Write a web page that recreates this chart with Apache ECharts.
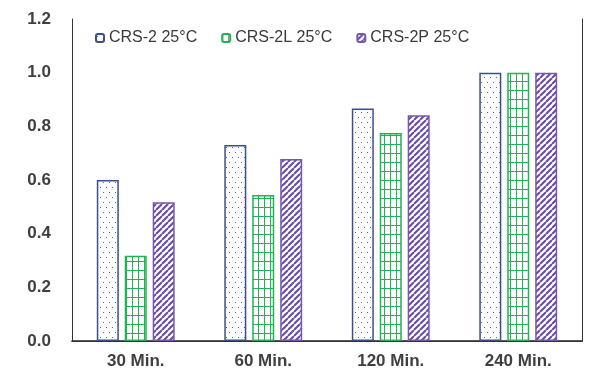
<!DOCTYPE html>
<html><head><meta charset="utf-8">
<script src="https://cdn.jsdelivr.net/npm/echarts@6/dist/echarts.min.js"></script>
<style>html,body{margin:0;padding:0;background:#fff}#c{width:594px;height:381px}</style>
</head><body><div id="c"></div>
<script>
const categories = ['30 Min.', '60 Min.', '120 Min.', '240 Min.'];
const seriesNames = ['CRS-2 25°C', 'CRS-2L 25°C', 'CRS-2P 25°C'];
const crs2 = [0.60, 0.73, 0.866, 1.0];
const crs2L = [0.318, 0.544, 0.775, 1.0];
const crs2P = [0.517, 0.678, 0.841, 1.0];
const yTicks = [0, 0.2, 0.4, 0.6, 0.8, 1.0, 1.2];

function mk(w, h, draw) {
  const c = document.createElement('canvas');
  c.width = w; c.height = h;
  const g = c.getContext('2d');
  g.fillStyle = '#fff'; g.fillRect(0, 0, w, h);
  draw(g);
  return c;
}
const dots = mk(6, 10, g => {
  g.fillStyle = '#5868a8';
  g.fillRect(1, 2, 1, 1);
  g.fillRect(4, 7, 1, 1);
});
const grid = mk(6, 9, g => {
  g.fillStyle = '#1cb454';
  g.fillRect(0, 0, 6, 1);
  g.fillRect(0, 0, 1, 9);
});
const stripes = mk(6, 6, g => {
  g.strokeStyle = '#6a48a8';
  g.lineWidth = 2;
  g.beginPath();
  for (let k = -6; k <= 12; k += 6) { g.moveTo(k, 6); g.lineTo(k + 6, 0); }
  g.stroke();
});

const chart = echarts.init(document.getElementById('c'), null, {renderer: 'canvas'});
const font = 'Liberation Sans, Arial, sans-serif';
function bar(name, data, pat, border) {
  return {
    name, type: 'bar', data, barWidth: 22, barGap: '27%',
    itemStyle: {color: {image: pat, repeat: 'repeat'}, borderColor: border, borderWidth: 1.5}
  };
}
chart.setOption({
  animation: false,
  backgroundColor: '#fff',
  legend: {
    top: 25, left: 90, itemWidth: 8, itemHeight: 8, itemGap: 24,
    textStyle: {fontFamily: font, fontSize: 16, color: '#3a3a3a', padding: [0,0,0,0]},
    data: seriesNames
  },
  grid: {left: 72, right: 12, top: 19, bottom: 40},
  xAxis: [{
    type: 'category', data: categories,
    axisLine: {lineStyle: {color: '#222', width: 1.5}},
    axisTick: {show: false},
    axisLabel: {fontFamily: font, fontSize: 17, fontWeight: 'bold', color: '#404040', margin: 12}
  }, {
    type: 'category', data: categories, position: 'top',
    axisLine: {show: true, lineStyle: {color: '#333', width: 1}},
    axisTick: {show: false}, axisLabel: {show: false}
  }],
  yAxis: [{
    type: 'value', min: 0, max: 1.2, interval: 0.2,
    axisLine: {show: true, lineStyle: {color: '#333'}},
    axisTick: {show: false},
    splitLine: {show: false},
    axisLabel: {fontFamily: font, fontSize: 17, fontWeight: 'bold', color: '#404040', margin: 21,
      formatter: v => { const t = yTicks.find(x => Math.abs(x - v) < 1e-9); return (t !== undefined ? t : v).toFixed(1); }}
  }, {
    type: 'value', min: 0, max: 1.2, interval: 0.2, position: 'right',
    axisLine: {show: true, lineStyle: {color: '#333'}},
    axisTick: {show: false}, splitLine: {show: false}, axisLabel: {show: false}
  }],
  series: [
    bar(seriesNames[0], crs2, dots, '#3a4f8c'),
    bar(seriesNames[1], crs2L, grid, '#22b356'),
    bar(seriesNames[2], crs2P, stripes, '#7558ae')
  ]
});
</script></body></html>
